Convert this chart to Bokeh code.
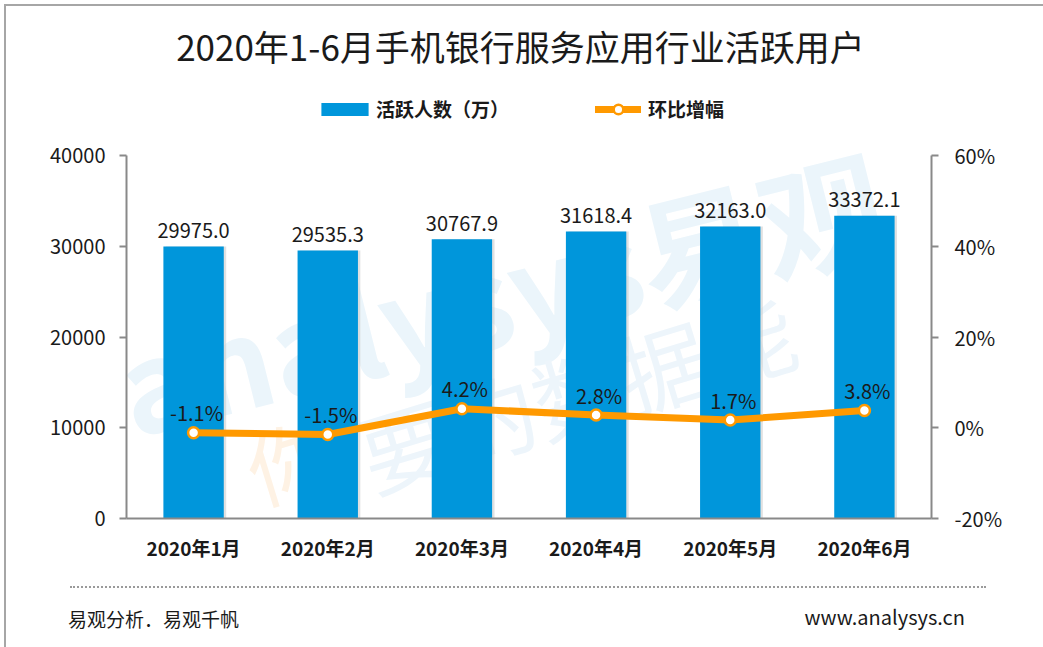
from bokeh.plotting import figure
from bokeh.layouts import column
from bokeh.models import (FactorRange, Range1d, LinearAxis, FixedTicker, PrintfTickFormatter,
                          NumeralTickFormatter, ColumnDataSource, LabelSet, Label, Legend,
                          LegendItem, Div)
from bokeh.core.properties import value
from bokeh.transform import dodge
from bokeh.embed import file_html
from bokeh.resources import INLINE

# ---------------- data ----------------
months = ["2020年1月", "2020年2月", "2020年3月", "2020年4月", "2020年5月", "2020年6月"]
active_users = [29975.0, 29535.3, 30767.9, 31618.4, 32163.0, 33372.1]   # 活跃人数（万）
mom_growth = [-1.1, -1.5, 4.2, 2.8, 1.7, 3.8]                            # 环比增幅 (%)
left_ticks = [0, 10000, 20000, 30000, 40000]
right_ticks = [-20, 0, 20, 40, 60]

title_text = "2020年1-6月手机银行服务应用行业活跃用户"
bar_name = "活跃人数（万）"
line_name = "环比增幅"
footer_left = "易观分析．易观千帆"
footer_right = "www.analysys.cn"
watermark_main = "analysys易观"
watermark_sub_1 = "你"
watermark_sub_2 = "要的数据能"

FONT = "Noto Sans CJK SC"
BLUE = "#0096DB"
ORANGE = "#FF9900"
AXIS = "#898989"
TXT = "#1a1a1a"

# ---------------- layout sizes (px) ----------------
W = 1030
HA = 560          # chart figure height
HB = 75           # footer height
LEFT, RIGHT, BOTTOM = 120, 105, 48
FRAME_H = HA - BOTTOM          # frame spans from the top of the canvas
PLOT_H = 363                   # height of the value area inside the frame

y_end = left_ticks[-1] * FRAME_H / PLOT_H
r_end = right_ticks[0] + (right_ticks[-1] - right_ticks[0]) * FRAME_H / PLOT_H

src = ColumnDataSource(dict(
    month=months,
    users=active_users,
    growth=mom_growth,
    users_txt=[f"{v:.1f}" for v in active_users],
    growth_txt=[f"{v:.1f}%" for v in mom_growth],
))

p = figure(width=W, height=HA,
           x_range=FactorRange(*months),
           y_range=Range1d(left_ticks[0], y_end),
           output_backend="svg", toolbar_location=None,
           min_border_left=LEFT, min_border_right=RIGHT,
           min_border_top=0, min_border_bottom=BOTTOM)
p.extra_y_ranges = {"pct": Range1d(right_ticks[0], r_end)}
p.xgrid.visible = False
p.ygrid.visible = False
p.outline_line_color = None
p.background_fill_color = "white"
p.border_fill_color = "white"

# faint watermark behind everything
p.add_layout(Label(x=374, y=228, x_units="screen", y_units="screen", text=watermark_main,
                   angle=14, angle_units="deg", text_align="center", text_baseline="middle",
                   text_font=FONT, text_font_size="125px", text_font_style="bold",
                   text_color="#ebf5fb", level="underlay"))
p.add_layout(Label(x=162, y=60, x_units="screen", y_units="screen", text=watermark_sub_1,
                   angle=17, angle_units="deg", text_align="center", text_baseline="middle",
                   text_font=FONT, text_font_size="84px",
                   text_color="#fef2e4", level="underlay"))
p.add_layout(Label(x=450, y=128, x_units="screen", y_units="screen", text=watermark_sub_2,
                   angle=17, angle_units="deg", text_align="center", text_baseline="middle",
                   text_font=FONT, text_font_size="90px",
                   text_color="#edf5fb", level="underlay"))

# bars with a light shadow on the right
p.vbar(x=dodge("month", 0.018, range=p.x_range), top="users", width=0.45, source=src,
       fill_color="#c8c8c8", fill_alpha=0.55, line_color=None)
bars = p.vbar(x="month", top="users", width=0.45, source=src,
              fill_color=BLUE, line_color=None)

ln = p.line(x="month", y="growth", source=src, y_range_name="pct",
            line_color=ORANGE, line_width=7, line_cap="round", line_join="round")
pts = p.scatter(x="month", y="growth", source=src, y_range_name="pct", size=11,
                fill_color="white", line_color=ORANGE, line_width=2.5)

# axes
ya = p.yaxis[0]
ya.ticker = FixedTicker(ticks=left_ticks)
ya.bounds = (left_ticks[0], left_ticks[-1])
ya.formatter = NumeralTickFormatter(format="0")
ya.axis_line_color = AXIS
ya.axis_line_width = 2
ya.major_tick_line_color = AXIS
ya.major_tick_line_width = 2
ya.major_tick_out = 7
ya.major_tick_in = 0
ya.minor_tick_line_color = None
ya.major_label_text_font = FONT
ya.major_label_text_font_size = "20px"
ya.major_label_text_color = TXT
ya.major_label_standoff = 14

ra = LinearAxis(y_range_name="pct", ticker=FixedTicker(ticks=right_ticks),
                bounds=(right_ticks[0], right_ticks[-1]),
                formatter=PrintfTickFormatter(format="%d%%"))
ra.axis_line_color = AXIS
ra.axis_line_width = 2
ra.major_tick_line_color = AXIS
ra.major_tick_line_width = 2
ra.major_tick_out = 7
ra.major_tick_in = 0
ra.minor_tick_line_color = None
ra.major_label_text_font = FONT
ra.major_label_text_font_size = "20px"
ra.major_label_text_color = TXT
ra.major_label_standoff = 16
p.add_layout(ra, "right")

xa = p.xaxis[0]
xa.axis_line_color = AXIS
xa.axis_line_width = 2
xa.major_tick_line_color = None
xa.minor_tick_line_color = None
xa.major_label_text_font = FONT
xa.major_label_text_font_size = "19px"
xa.major_label_text_font_style = "bold"
xa.major_label_text_color = TXT
xa.major_label_standoff = 9

# data labels
p.add_layout(LabelSet(x="month", y="users", text="users_txt", source=src,
                      text_align="center", text_baseline="middle", y_offset=16,
                      text_font=value(FONT), text_font_size="20px", text_color=TXT))
p.add_layout(LabelSet(x="month", y="growth", text="growth_txt", source=src,
                      y_range_name="pct", x_offset=3,
                      text_align="center", text_baseline="middle", y_offset=20,
                      text_font=value(FONT), text_font_size="20px", text_color=TXT))

# legends (inside the frame, above the value area)
leg1 = Legend(items=[LegendItem(label=bar_name, renderers=[bars])],
              location=(189, 396), orientation="horizontal",
              glyph_width=59, glyph_height=16, label_standoff=2,
              label_text_font=FONT, label_text_font_size="19px",
              label_text_font_style="bold", label_text_color=TXT,
              padding=0, margin=0, border_line_color=None, background_fill_alpha=0)
leg2 = Legend(items=[LegendItem(label=line_name, renderers=[ln, pts])],
              location=(469, 396), orientation="horizontal",
              glyph_width=46, glyph_height=24, label_standoff=7,
              label_text_font=FONT, label_text_font_size="19px",
              label_text_font_style="bold", label_text_color=TXT,
              padding=0, margin=0, border_line_color=None, background_fill_alpha=0)
p.add_layout(leg1)
p.add_layout(leg2)

# title (screen units relative to the frame)
p.add_layout(Label(x=394, y=FRAME_H - 39, x_units="screen", y_units="screen", text=title_text,
                   text_align="center", text_baseline="middle",
                   text_font=FONT, text_font_size="35px", text_color=TXT))

# ---------------- footer ----------------
footer_html = f"""
<div style="position:relative;width:{W}px;height:{HB}px;font-family:'{FONT}';color:{TXT};">
  <div style="position:absolute;left:59px;top:15px;width:916px;height:0;border-top:2px dotted #9a9a9a;"></div>
  <div style="position:absolute;left:57px;top:36px;font-size:19px;line-height:24px;white-space:nowrap;">{footer_left}</div>
  <div style="position:absolute;right:76px;top:34px;font-size:20px;line-height:24px;white-space:nowrap;">{footer_right}</div>
</div>
"""
foot = Div(text=footer_html, width=W, height=HB)

layout = column(p, foot, spacing=0,
                styles={"border": "2px solid #a6a6a6", "margin": "4px"})

open("out.html", "w").write(file_html(layout, INLINE))
